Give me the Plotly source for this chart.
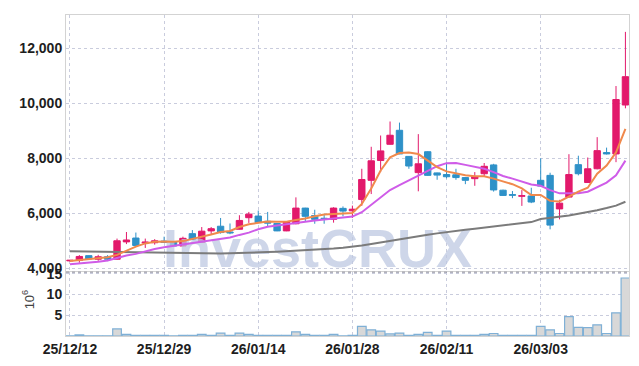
import plotly.graph_objects as go

dates = ["25/12/12","25/12/15","25/12/16","25/12/17","25/12/18","25/12/19","25/12/22","25/12/23","25/12/24","25/12/26",
         "25/12/29","25/12/30","26/01/02","26/01/05","26/01/06","26/01/07","26/01/08","26/01/09","26/01/12","26/01/13",
         "26/01/14","26/01/15","26/01/16","26/01/19","26/01/20","26/01/21","26/01/22","26/01/23","26/01/26","26/01/27",
         "26/01/28","26/01/29","26/01/30","26/02/02","26/02/03","26/02/04","26/02/05","26/02/06","26/02/09","26/02/10",
         "26/02/11","26/02/12","26/02/13","26/02/19","26/02/20","26/02/23","26/02/24","26/02/25","26/02/26","26/02/27",
         "26/03/03","26/03/04","26/03/05","26/03/06","26/03/09","26/03/10","26/03/11","26/03/12","26/03/13","26/03/16"]

opens  = [4270,4290,4460,4330,4420,4330,4960,5100,4920,4930, 4990,4960,4810,5260,4940,5360,5530,5320,5420,5840,
          5900,5710,5630,5360,5620,6190,5920,5820,5780,6180, 6090,6500,7200,7920,8510,9020,8070,7480,8240,7470,
          7410,7400,7300,7260,7440,7760,6840,6680,6620,6630, 7200,7380,6160,6590,7770,7120,7620,8210,8160,9940]
highs  = [4300,4480,4470,4490,4480,5080,5320,5300,5080,5060, 5150,4970,5150,5390,5500,5500,5830,5630,5930,6050,
          6100,6050,5640,5700,6580,6200,6130,5950,6220,6250, 6280,7620,8420,8830,9340,9300,8080,8880,8260,7480,
          7850,7620,7320,7500,7830,7800,6860,6810,6845,6930, 8000,7476,6490,8150,8095,8030,8770,8390,10630,12600]
lows   = [4250,4200,4330,4270,4260,4320,4880,4820,4740,4860, 4930,4800,4790,5030,4930,5240,5260,5240,5410,5650,
          5640,5500,5350,5350,5600,5710,5620,5620,5660,5890, 5830,6270,6700,7500,8500,8150,7620,6800,7360,7220,
          7270,7220,7060,7000,7360,6790,6630,6550,6270,6370, 6980,5417,5780,6580,7380,7110,7600,8140,7860,9820]
closes = [4290,4430,4340,4420,4330,5000,5030,4830,4950,5000, 4940,4810,5090,5040,5350,5440,5300,5290,5740,5970,
          5660,5640,5360,5690,6190,5890,5780,5800,6190,6080, 6150,7230,7910,8270,8840,8160,7720,7800,7380,7390,
          7330,7300,7200,7340,7710,6850,6650,6660,6640,6410, 6990,5570,6370,7410,7440,7620,8280,8160,10140,10970]

ma_short = [4262,4300,4330,4360,4405,4488,4643,4786,4905,4964, 4976,4964,4988,5060,5143,5226,5321,5357,5500,5600,
            5655,5700,5690,5690,5760,5810,5890,5955,5976,5988, 6012,6340,6905,7560,8036,8190,8214,8155,7917,7679,
            7524,7440,7381,7345,7345,7262,7167,7060,6905,6667, 6667,6452,6429,6607,6786,6929,7440,7738,8214,9071]
ma_mid   = [4143,4167,4202,4238,4286,4381,4464,4524,4619,4702, 4762,4810,4857,4917,4976,5024,5060,5119,5214,5298,
            5420,5512,5560,5595,5631,5690,5738,5774,5810,5833, 5880,6040,6310,6607,6845,7024,7202,7381,7560,7714,
            7825,7833,7762,7679,7619,7500,7357,7262,7167,7048, 7000,6845,6726,6714,6726,6786,6940,7119,7381,7917]
ma_long  = [4620,4615,4610,4600,4590,4580,4570,4560,4555,4550, 4545,4540,4540,4535,4535,4535,4540,4545,4550,4560,
            4575,4590,4605,4620,4640,4660,4680,4700,4720,4750, 4780,4830,4880,4940,5000,5060,5120,5170,5220,5270,
            5320,5360,5400,5440,5480,5520,5560,5600,5640,5680, 5790,5830,5870,5920,5980,6040,6110,6190,6280,6420]

volume_m = [0.05,0.25,0.05,0.05,0.05,1.7,0.4,0.15,0.15,0.15, 0.15,0.05,0.15,0.15,0.4,0.15,0.7,0.15,0.7,0.4,
            0.15,0.15,0.15,0.15,1.0,0.4,0.15,0.15,0.4,0.05, 0.15,2.3,1.5,1.2,0.5,0.7,0.15,0.4,0.9,0.15,
            1.2,0.15,0.15,0.15,0.4,0.6,0.15,0.15,0.15,0.15, 2.3,1.5,0.6,4.7,2.1,2.0,2.7,0.6,5.6,14.0]

price_ticks = [4000, 6000, 8000, 10000, 12000]
price_tick_text = ["4,000", "6,000", "8,000", "10,000", "12,000"]
vol_ticks = [5, 10, 15]
date_tick_idx = [0, 10, 20, 30, 40, 50]

idx = list(range(len(dates)))

UP = "#e2196b"
DOWN = "#2e91c8"
GRID = "#c9ccdd"
FONT = "Liberation Sans Narrow, Liberation Sans, Arial, sans-serif"

fig = go.Figure()

# watermark (drawn first so it sits under the marks)
fig.add_trace(go.Scatter(x=[26.3], y=[4520], mode="text", text=["InvestCRUX"],
                         textfont=dict(family="Liberation Sans, Arial, sans-serif", size=54, color="rgba(190,200,226,0.75)", weight="bold"),
                         hoverinfo="skip", showlegend=False, cliponaxis=False, xaxis="x", yaxis="y"))

fig.add_trace(go.Scatter(x=idx, y=ma_long, mode="lines", line=dict(color="#7b7b7b", width=2), showlegend=False, xaxis="x", yaxis="y"))
fig.add_trace(go.Scatter(x=idx, y=ma_mid, mode="lines", line=dict(color="#cf5ce8", width=2), showlegend=False, xaxis="x", yaxis="y"))
fig.add_trace(go.Scatter(x=idx, y=ma_short, mode="lines", line=dict(color="#f0894c", width=2), showlegend=False, xaxis="x", yaxis="y"))

fig.add_trace(go.Candlestick(x=idx, open=opens, high=highs, low=lows, close=closes,
                             increasing=dict(line=dict(color=UP, width=1), fillcolor=UP),
                             decreasing=dict(line=dict(color=DOWN, width=1), fillcolor=DOWN),
                             whiskerwidth=0, showlegend=False, xaxis="x", yaxis="y"))

fig.add_trace(go.Bar(x=idx, y=volume_m, marker=dict(color="#d8d8d8", line=dict(color="#7fb0d6", width=1.2)),
                     width=0.92, showlegend=False, xaxis="x2", yaxis="y2"))

vol_top = 0.1988
price_bot = 0.2018

axis_common = dict(showline=True, linecolor="#d3d3d3", linewidth=1, mirror=True, zeroline=False,
                   showgrid=True, gridcolor=GRID, griddash="dot", gridwidth=1)

tickfont = dict(family=FONT, size=14, color="#1e1e1e", weight="bold")

fig.update_layout(
    width=639, height=366,
    margin=dict(l=66, r=9, t=10, b=29),
    paper_bgcolor="white", plot_bgcolor="white",
    boxgap=0.1, boxgroupgap=0.25,
    font=dict(family=FONT, size=14, color="#222222"),
    xaxis=dict(domain=[0, 1], range=[-0.42, 59.38], anchor="y", tickvals=date_tick_idx, showticklabels=False,
               rangeslider=dict(visible=False), **axis_common),
    xaxis2=dict(domain=[0, 1], range=[-0.42, 59.38], anchor="y2", matches="x", tickvals=date_tick_idx,
                ticktext=[dates[i] for i in date_tick_idx], ticks="", tickfont=tickfont, **axis_common),
    yaxis=dict(domain=[price_bot, 1], range=[3893, 13214], tickvals=price_ticks, ticktext=price_tick_text,
               ticks="", anchor="x", tickfont=tickfont, **axis_common),
    yaxis2=dict(domain=[0, vol_top], range=[0, 15.4], tickvals=vol_ticks, ticks="", anchor="x2",
                tickfont=tickfont, **axis_common),
    hovermode=False,
)

fig.add_shape(type="line", xref="paper", yref="paper", x0=0, x1=1, y0=price_bot - 0.003, y1=price_bot - 0.003,
              line=dict(color="#8e8e9c", width=1, dash="dot"))

fig.add_annotation(text="10<sup>6</sup>", xref="paper", yref="paper", x=-0.067, y=0.115, xanchor="center",
                   yanchor="middle", showarrow=False, textangle=-90,
                   font=dict(family="Liberation Sans, Arial, sans-serif", size=13, color="#444444"))

fig.write_html("out.html")
